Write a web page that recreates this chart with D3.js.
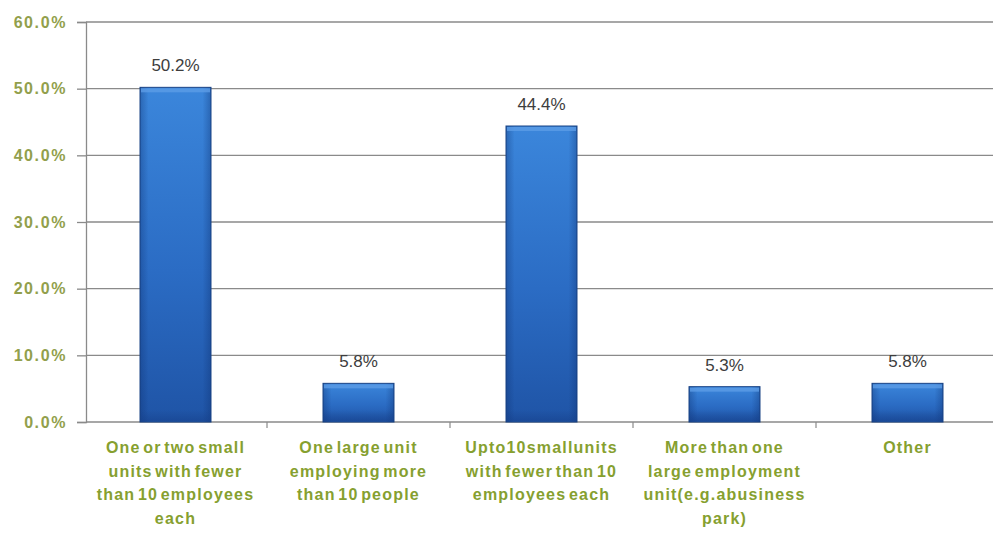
<!DOCTYPE html>
<html>
<head>
<meta charset="utf-8">
<script src="https://cdn.jsdelivr.net/npm/d3@7"></script>
<style>
  html, body { margin: 0; padding: 0; background: #fff; }
  svg { display: block; }
</style>
</head>
<body>
<svg id="chart" width="993" height="537"></svg>
<script>
// Share of responses by type of employment site
const categories = [
  ["One or two small", "units with fewer", "than 10 employees", "each"],
  ["One large unit", "employing more", "than 10 people"],
  ["Upto10smallunits", "with fewer than 10", "employees each"],
  ["More than one", "large employment", "unit(e.g.abusiness", "park)"],
  ["Other"]
];
const values = [50.2, 5.8, 44.4, 5.3, 5.8];
const yTicks = [0, 10, 20, 30, 40, 50, 60];

const svg = d3.select("#chart");
const plotLeft = 86, plotRight = 999, plotTop = 22, plotBottom = 422;

const x = d3.scaleBand()
  .domain(d3.range(values.length))
  .range([plotLeft - 2, plotRight])
  .paddingInner(0)
  .paddingOuter(0);

const y = d3.scaleLinear().domain([0, 60]).range([plotBottom, plotTop]);

const defs = svg.append("defs");
const grad = defs.append("linearGradient")
  .attr("id", "barFill").attr("x1", 0).attr("y1", 0).attr("x2", 0).attr("y2", 1);
grad.append("stop").attr("offset", "0%").attr("stop-color", "#3b86db");
grad.append("stop").attr("offset", "55%").attr("stop-color", "#2b6cc4");
grad.append("stop").attr("offset", "100%").attr("stop-color", "#1f54a6");
const side = defs.append("linearGradient")
  .attr("id", "barSide").attr("x1", 0).attr("y1", 0).attr("x2", 1).attr("y2", 0);
side.append("stop").attr("offset", "0%").attr("stop-color", "#0d2f6e").attr("stop-opacity", 0.35);
side.append("stop").attr("offset", "12%").attr("stop-color", "#0d2f6e").attr("stop-opacity", 0);
side.append("stop").attr("offset", "88%").attr("stop-color", "#0d2f6e").attr("stop-opacity", 0);
side.append("stop").attr("offset", "100%").attr("stop-color", "#0d2f6e").attr("stop-opacity", 0.35);
const foot = defs.append("linearGradient")
  .attr("id", "barFoot").attr("x1", 0).attr("y1", 0).attr("x2", 0).attr("y2", 1);
foot.append("stop").attr("offset", "0%").attr("stop-color", "#16408a").attr("stop-opacity", 0);
foot.append("stop").attr("offset", "100%").attr("stop-color", "#16408a").attr("stop-opacity", 0.5);

// Y-axis with tick labels
const yAxis = d3.axisLeft(y)
  .tickValues(yTicks)
  .tickSize(9)
  .tickPadding(10)
  .tickFormat(d => d.toFixed(1) + "%");
const gy = svg.append("g").attr("transform", `translate(${plotLeft},0)`).call(yAxis);
gy.select(".domain").attr("stroke", "#8a8a8a").attr("stroke-width", 1.3);
gy.selectAll(".tick line").attr("stroke", "#8a8a8a").attr("stroke-width", 1.3);
gy.selectAll(".tick text")
  .attr("fill", "#929f4c")
  .style("font-family", "Arial, 'Liberation Sans', sans-serif")
  .style("font-weight", "bold")
  .style("font-size", "16px")
  .style("letter-spacing", "1.6px");

// Horizontal gridlines
svg.append("g").selectAll("line.grid")
  .data(yTicks.filter(d => d > 0))
  .join("line")
  .attr("x1", plotLeft).attr("x2", 993)
  .attr("y1", d => y(d)).attr("y2", d => y(d))
  .attr("stroke", "#8a8a8a").attr("stroke-width", 1.3);

// Baseline with category separators
svg.append("line").attr("x1", plotLeft).attr("x2", 993).attr("y1", plotBottom).attr("y2", plotBottom)
  .attr("stroke", "#8a8a8a").attr("stroke-width", 1.3);
svg.append("g").selectAll("line.sep")
  .data(d3.range(1, values.length))
  .join("line")
  .attr("x1", d => x(d)).attr("x2", d => x(d))
  .attr("y1", plotBottom).attr("y2", plotBottom + 6)
  .attr("stroke", "#8a8a8a").attr("stroke-width", 1.2);

// Bars
const barW = 71;
const barX = (d, i) => x(i) + x.bandwidth() / 2 - barW / 2;
const bars = svg.append("g").selectAll("g.bar")
  .data(values)
  .join("g")
  .attr("class", "bar");
bars.append("rect")
  .attr("x", barX)
  .attr("y", d => y(d))
  .attr("width", barW)
  .attr("height", d => plotBottom - y(d))
  .attr("fill", "url(#barFill)")
  .attr("stroke", "#1b4486")
  .attr("stroke-width", 1);
bars.append("rect")
  .attr("x", barX)
  .attr("y", d => y(d))
  .attr("width", barW)
  .attr("height", d => plotBottom - y(d))
  .attr("fill", "url(#barSide)");
bars.append("rect")
  .attr("x", (d, i) => barX(d, i) + 1)
  .attr("y", d => y(d) + 1)
  .attr("width", barW - 2)
  .attr("height", 4)
  .attr("fill", "#5c9ce6")
  .attr("opacity", 0.8);
bars.append("rect")
  .attr("x", (d, i) => barX(d, i) + 1)
  .attr("y", plotBottom - 12)
  .attr("width", barW - 2)
  .attr("height", 11)
  .attr("fill", "url(#barFoot)");

// Value labels
svg.append("g").selectAll("text.val")
  .data(values)
  .join("text")
  .attr("x", (d, i) => x(i) + x.bandwidth() / 2)
  .attr("y", d => y(d) - 16)
  .attr("text-anchor", "middle")
  .attr("fill", "#3d3d3d")
  .style("font-family", "Arial, 'Liberation Sans', sans-serif")
  .style("font-size", "17px")
  .text(d => d.toFixed(1) + "%");

// Category labels
const catG = svg.append("g").selectAll("text.cat")
  .data(categories)
  .join("text")
  .attr("text-anchor", "middle")
  .attr("fill", "#86a02f")
  .style("font-family", "Arial, 'Liberation Sans', sans-serif")
  .style("font-weight", "bold")
  .style("font-size", "16px")
  .style("letter-spacing", "1.2px")
  .style("word-spacing", "-3px");
catG.selectAll("tspan")
  .data((d, i) => d.map(t => ({ t, i })))
  .join("tspan")
  .attr("x", d => x(d.i) + x.bandwidth() / 2)
  .attr("y", (d, j) => 453 + j * 23.5)
  .text(d => d.t);
</script>
</body>
</html>
